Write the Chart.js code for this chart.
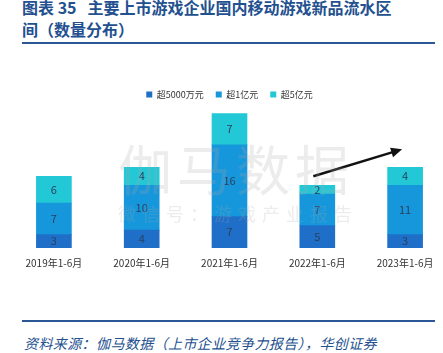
<!DOCTYPE html>
<html lang="zh">
<head>
    <meta charset="UTF-8">
    <title>主要上市游戏企业国内移动游戏新品流水区间</title>
    <style>
        body {
            margin: 0;
            width: 443px;
            height: 353px;
            overflow: hidden;
            background: #fff;
            font-family: "Noto Sans CJK SC", sans-serif;
            position: relative;
        }
        .title {
            position: absolute;
            left: 22px;
            top: -4px;
            font-size: 16px;
            line-height: 22px;
            font-weight: bold;
            color: #23508f;
            white-space: nowrap;
        }
        .rule {
            position: absolute;
            left: 22px;
            width: 413px;
            height: 2px;
            background: #2b5797;
        }
        .source {
            position: absolute;
            left: 24px;
            top: 333px;
            font-size: 14px;
            line-height: 20px;
            letter-spacing: 0.4px;
            font-style: italic;
            color: #23508f;
            white-space: nowrap;
        }
        .chart-box {
            position: absolute;
            left: 0;
            top: 78px;
            width: 460px;
            height: 198px;
        }
        .wm {
            position: absolute;
            pointer-events: none;
            color: rgba(170, 170, 170, 0.22);
            white-space: nowrap;
        }
    </style>
</head>
<body>
    <div class="title">图表 35&nbsp;&nbsp; 主要上市游戏企业国内移动游戏新品流水区<br>间（数量分布）</div>
    <div class="rule" style="top:42px"></div>

    <div class="chart-box">
        <canvas id="flowChart"></canvas>
    </div>

    <div class="wm" style="left:118px; top:128px; font-size:54px; letter-spacing:5px;">伽马数据</div>
    <div class="wm" style="left:118px; top:200px; font-size:18px; letter-spacing:6px;">微信号：游戏产业报告</div>

    <div class="rule" style="top:320px"></div>
    <div class="source">资料来源：伽马数据（上市企业竞争力报告），华创证券</div>

    <script src="https://cdn.jsdelivr.net/npm/chart.js"></script>
    <script>
        const periods = ['2019年1-6月', '2020年1-6月', '2021年1-6月', '2022年1-6月', '2023年1-6月'];
        const over50m = [3, 4, 7, 5, 3];     // 超5000万元
        const over100m = [7, 10, 16, 7, 11]; // 超1亿元
        const over500m = [6, 4, 7, 2, 4];    // 超5亿元

        // trend arrow: from above the 2022 bar to above the 2023 bar
        const arrowFrom = { index: 3, value: 16 };
        const arrowTo = { index: 4, value: 22 };

        const barLabels = {
            id: 'barLabels',
            afterDatasetsDraw(chart) {
                const ctx = chart.ctx;
                ctx.save();
                ctx.font = '11px "Noto Sans CJK SC", sans-serif';
                ctx.fillStyle = '#2b3f5c';
                ctx.textAlign = 'center';
                ctx.textBaseline = 'middle';
                chart.data.datasets.forEach((ds, i) => {
                    chart.getDatasetMeta(i).data.forEach((bar, j) => {
                        const p = bar.getCenterPoint();
                        ctx.fillText(ds.data[j], p.x, p.y);
                    });
                });
                ctx.restore();
            }
        };

        const trendArrow = {
            id: 'trendArrow',
            afterDraw(chart) {
                const x = chart.scales.x, y = chart.scales.y;
                const x1 = x.getPixelForValue(arrowFrom.index) - 4;
                const y1 = y.getPixelForValue(arrowFrom.value);
                const x2 = x.getPixelForValue(arrowTo.index) - 3;
                const y2 = y.getPixelForValue(arrowTo.value);
                const a = Math.atan2(y2 - y1, x2 - x1);
                const ctx = chart.ctx;
                ctx.save();
                ctx.strokeStyle = '#111';
                ctx.fillStyle = '#111';
                ctx.lineWidth = 2.5;
                ctx.beginPath();
                ctx.moveTo(x1, y1);
                ctx.lineTo(x2 - 8 * Math.cos(a), y2 - 8 * Math.sin(a));
                ctx.stroke();
                ctx.beginPath();
                ctx.moveTo(x2, y2);
                ctx.lineTo(x2 - 11 * Math.cos(a) + 5 * Math.sin(a), y2 - 11 * Math.sin(a) - 5 * Math.cos(a));
                ctx.lineTo(x2 - 11 * Math.cos(a) - 5 * Math.sin(a), y2 - 11 * Math.sin(a) + 5 * Math.cos(a));
                ctx.closePath();
                ctx.fill();
                ctx.restore();
            }
        };

        new Chart(document.getElementById('flowChart'), {
            type: 'bar',
            data: {
                labels: periods,
                datasets: [
                    { label: '超5000万元', data: over50m, backgroundColor: '#1f6fc8' },
                    { label: '超1亿元', data: over100m, backgroundColor: '#1797db' },
                    { label: '超5亿元', data: over500m, backgroundColor: '#22c8d6' }
                ]
            },
            options: {
                responsive: true,
                maintainAspectRatio: false,
                animation: false,
                layout: { padding: { left: 10, right: 11, top: 0, bottom: 6 } },
                datasets: { bar: { barThickness: 35 } },
                plugins: {
                    legend: {
                        position: 'top',
                        labels: {
                            usePointStyle: true,
                            pointStyle: 'rect',
                            boxWidth: 6,
                            boxHeight: 6,
                            padding: 12,
                            color: '#333',
                            font: { size: 9, family: '"Noto Sans CJK SC", sans-serif' }
                        }
                    },
                    tooltip: { enabled: false }
                },
                scales: {
                    x: {
                        stacked: true,
                        grid: { display: false },
                        border: { display: false },
                        ticks: { color: '#333', padding: 1, font: { size: 10, family: '"Noto Sans CJK SC", sans-serif' } }
                    },
                    y: { stacked: true, display: false, min: 0, max: 31 }
                }
            },
            plugins: [barLabels, trendArrow]
        });
    </script>
</body>
</html>
